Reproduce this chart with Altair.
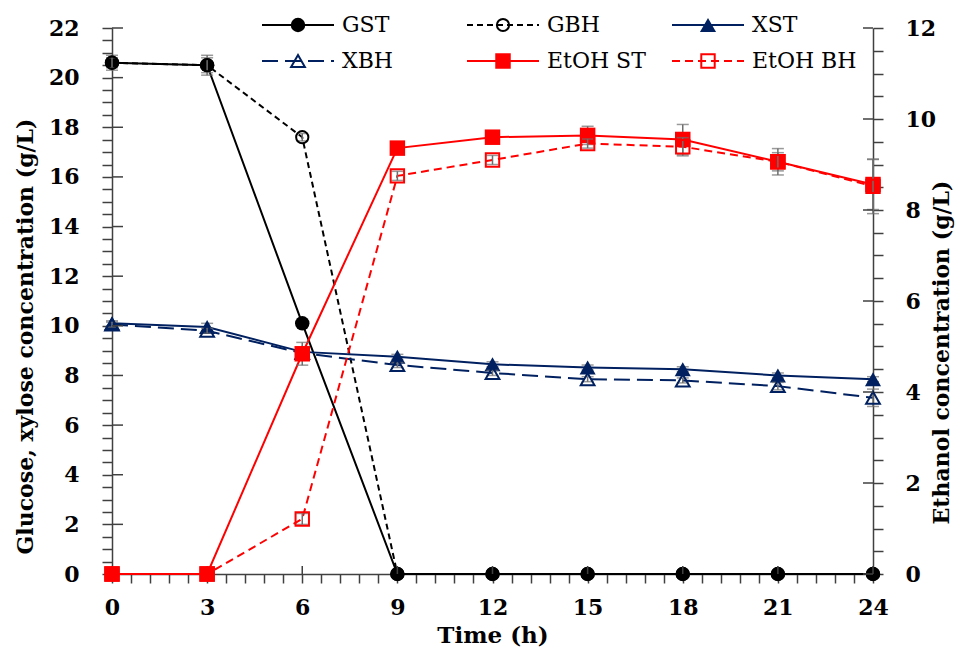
import altair as alt
import pandas as pd

# Sampling times (h)
TIME_H = [0, 3, 6, 9, 12, 15, 18, 21, 24]

# Sugar concentrations (g/L, left axis)
GST = [20.6, 20.5, 10.1, 0, 0, 0, 0, 0, 0]
GBH = [20.6, 20.5, 17.6, 0, 0, 0, 0, 0, 0]
XST = [10.1, 9.95, 8.95, 8.75, 8.45, 8.32, 8.25, 8.0, 7.85]
XBH = [10.05, 9.8, 8.9, 8.42, 8.1, 7.85, 7.8, 7.57, 7.1]

# Ethanol concentrations (g/L, right axis)
ETOH_ST = [0, 0, 4.84, 9.36, 9.6, 9.64, 9.55, 9.06, 8.56]
ETOH_BH = [0, 0, 1.21, 8.75, 9.1, 9.46, 9.39, 9.06, 8.52]

# Standard deviations
GST_SD = [0.3, 0.4, 0, 0, 0, 0, 0, 0, 0]
GBH_SD = [0.2, 0.3, 0.15, 0, 0, 0, 0, 0, 0]
XST_SD = [0.1, 0.15, 0.1, 0.1, 0.1, 0.1, 0.1, 0.1, 0.1]
XBH_SD = [0.1, 0.1, 0.1, 0.1, 0.1, 0.1, 0.1, 0.15, 0.35]
ETOH_ST_SD = [0, 0, 0.25, 0.05, 0.1, 0.2, 0.33, 0.29, 0.55]
ETOH_BH_SD = [0, 0, 0.12, 0.1, 0.1, 0.1, 0.2, 0.2, 0.6]

SERIES = [
    ("GST", GST, GST_SD, "left"),
    ("GBH", GBH, GBH_SD, "left"),
    ("XST", XST, XST_SD, "left"),
    ("XBH", XBH, XBH_SD, "left"),
    ("EtOH ST", ETOH_ST, ETOH_ST_SD, "right"),
    ("EtOH BH", ETOH_BH, ETOH_BH_SD, "right"),
]

BLACK, NAVY, RED = "#000000", "#002060", "#FF0000"
ERR_C = "#6E6E6E"
AXIS_C = "#404040"
FONT = "DejaVu Serif"

STYLE = {
    "GST": dict(color=BLACK, dash=None, shape="circle", size=210, filled=True),
    "GBH": dict(color=BLACK, dash=[6, 4], shape="circle", size=150, filled=False),
    "XST": dict(color=NAVY, dash=None, shape="triangle-up", size=260, filled=True),
    "XBH": dict(color=NAVY, dash=[16, 7], shape="triangle-up", size=190, filled=False),
    "EtOH ST": dict(color=RED, dash=None, shape="square", size=240, filled=True),
    "EtOH BH": dict(color=RED, dash=[8, 5], shape="square", size=180, filled=False),
}

W, H = 761, 546

x_scale = alt.Scale(domain=[0, 24], nice=False, zero=False)
yl_scale = alt.Scale(domain=[0, 22], nice=False)
yr_scale = alt.Scale(domain=[0, 12], nice=False)

common_axis = dict(
    grid=False,
    domainColor=AXIS_C,
    domainWidth=1.5,
    tickColor=AXIS_C,
    tickWidth=1.5,
    labelFont=FONT,
    labelFontSize=22,
    labelFontWeight="bold",
    labelColor="black",
    labelOverlap=False,
    labelFlush=False,
    titleFont=FONT,
    titleFontWeight="bold",
    titleColor="black",
)

x_axis = alt.Axis(
    values=[round(i * 0.6, 1) for i in range(41)],
    labelExpr="datum.value % 3 === 0 ? format(datum.value, 'd') : ''",
    title="Time (h)",
    tickSize=9,
    labelPadding=14,
    titleY=50,
    titleBaseline="top",
    titleFontSize=23,
    **common_axis,
)

yl_axis = alt.Axis(
    orient="left",
    values=[i * 0.5 for i in range(45)],
    labelExpr="datum.value % 2 === 0 ? format(datum.value, 'd') : ''",
    title="Glucose, xylose concentration (g/L)",
    tickSize=10,
    labelPadding=23,
    titleAngle=270,
    titleBaseline="middle",
    titleX=-87,
    titleY=308,
    titleFontSize=22,
    **common_axis,
)

yr_axis = alt.Axis(
    orient="right",
    values=[i * 0.5 for i in range(25)],
    labelExpr="datum.value % 2 === 0 ? format(datum.value, 'd') : ''",
    title="Ethanol concentration (g/L)",
    tickSize=10,
    labelPadding=22,
    titleAngle=270,
    titleBaseline="middle",
    titleX=68,
    titleY=324,
    titleFontSize=22,
    **common_axis,
)

X = alt.X("time:Q", scale=x_scale, axis=x_axis)


def y_enc(field, side):
    if side == "left":
        return alt.Y(f"{field}:Q", scale=yl_scale, axis=yl_axis)
    return alt.Y(f"{field}:Q", scale=yr_scale, axis=yr_axis)


def series_layers(name, values, sd, side):
    st = STYLE[name]
    df = pd.DataFrame({
        "time": TIME_H,
        "value": values,
        "lo": [v - e for v, e in zip(values, sd)],
        "hi": [v + e for v, e in zip(values, sd)],
        "sd": sd,
    })
    df_err = df[df["sd"] > 0]

    line_kw = dict(color=st["color"], strokeWidth=2)
    if st["dash"]:
        line_kw["strokeDash"] = st["dash"]
    line = alt.Chart(df).mark_line(**line_kw).encode(x=X, y=y_enc("value", side))

    err = alt.Chart(df_err).mark_rule(color=ERR_C, strokeWidth=1.5).encode(
        x=X, y=y_enc("lo", side), y2=alt.Y2("hi:Q")
    )
    cap_lo = alt.Chart(df_err).mark_tick(
        orient="horizontal", size=12, thickness=1.5, color=ERR_C
    ).encode(x=X, y=y_enc("lo", side))
    cap_hi = alt.Chart(df_err).mark_tick(
        orient="horizontal", size=12, thickness=1.5, color=ERR_C
    ).encode(x=X, y=y_enc("hi", side))

    pkw = dict(shape=st["shape"], size=st["size"], filled=st["filled"],
               color=st["color"], opacity=1)
    if not st["filled"]:
        pkw["strokeWidth"] = 2
    pts = alt.Chart(df).mark_point(**pkw).encode(x=X, y=y_enc("value", side))
    return [line, err, cap_lo, cap_hi, pts]


left_layers, right_layers = [], []
for name, vals, sd, side in SERIES:
    (left_layers if side == "left" else right_layers).extend(
        series_layers(name, vals, sd, side)
    )

# Major ticks that cross into the plot area
x_major = pd.DataFrame({"time": list(range(0, 25, 3))})
yl_major = pd.DataFrame({"v": list(range(0, 23, 2))})
yr_major = pd.DataFrame({"v": list(range(0, 13, 2))})

left_layers.append(
    alt.Chart(x_major).mark_rule(color=AXIS_C, strokeWidth=1.5).encode(
        x=X, y=alt.value(H - 8), y2=alt.value(H)
    )
)
left_layers.append(
    alt.Chart(yl_major).mark_rule(color=AXIS_C, strokeWidth=1.5).encode(
        y=y_enc("v", "left"), x=alt.value(0), x2=alt.value(11)
    )
)
right_layers.append(
    alt.Chart(yr_major).mark_rule(color=AXIS_C, strokeWidth=1.5).encode(
        y=y_enc("v", "right"), x=alt.value(W - 10), x2=alt.value(W)
    )
)

# Legend drawn inside the top of the plot: 3 columns x 2 rows
LEG_COL_X = [150, 355, 560]
LEG_ROW_Y = [-3, 33]
LEG_LINE_LEN = 72
LEG_MARK_OFF = 36
LEG_TEXT_OFF = 80

legend_layers = []
for i, (name, _, _, _) in enumerate(SERIES):
    st = STYLE[name]
    x0 = LEG_COL_X[i % 3]
    y0 = LEG_ROW_Y[i // 3]
    ldf = pd.DataFrame({"label": [name]})
    rule_kw = dict(color=st["color"], strokeWidth=2)
    if st["dash"]:
        rule_kw["strokeDash"] = st["dash"]
    legend_layers.append(
        alt.Chart(ldf).mark_rule(**rule_kw).encode(
            x=alt.value(x0), x2=alt.value(x0 + LEG_LINE_LEN), y=alt.value(y0)
        )
    )
    pkw = dict(shape=st["shape"], size=st["size"], filled=st["filled"],
               color=st["color"], opacity=1)
    if not st["filled"]:
        pkw["strokeWidth"] = 2
    legend_layers.append(
        alt.Chart(ldf).mark_point(**pkw).encode(
            x=alt.value(x0 + LEG_MARK_OFF), y=alt.value(y0)
        )
    )
    legend_layers.append(
        alt.Chart(ldf).mark_text(
            align="left", baseline="middle", font=FONT, fontSize=22, color="black"
        ).encode(
            x=alt.value(x0 + LEG_TEXT_OFF), y=alt.value(y0), text="label:N"
        )
    )

left = alt.layer(*left_layers)
right = alt.layer(*right_layers)

chart = (
    alt.layer(left, right, *legend_layers)
    .resolve_scale(y="independent")
    .properties(
        width=W,
        height=H,
        padding={"left": 112, "top": 28, "right": 960 - 112 - W, "bottom": 648 - 28 - H},
        autosize=alt.AutoSizeParams(type="none"),
        background="white",
    )
    .configure_view(strokeWidth=0)
)

chart.save("out.html", embed_options={"renderer": "svg", "actions": False})
